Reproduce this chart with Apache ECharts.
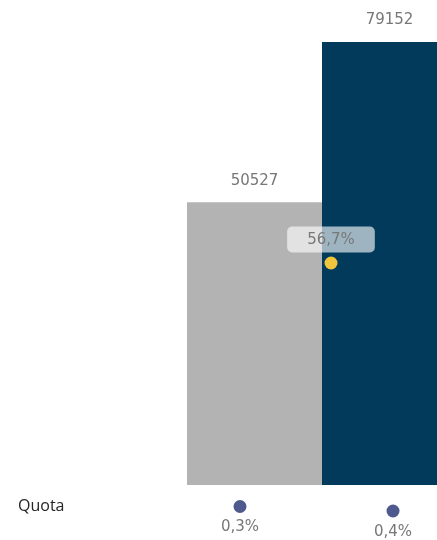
<!DOCTYPE html>
<html>
<head>
<meta charset="utf-8">
<style>
  html, body { margin: 0; padding: 0; background: #fff; }
  #chart { width: 437px; height: 540px; }
</style>
<script src="https://cdn.jsdelivr.net/npm/echarts@6/dist/echarts.min.js"></script>
</head>
<body>
<div id="chart"></div>
<script>
// Volumes per period
const periods = ['Periodo 1', 'Periodo 2'];
const volumes = [50527, 79152];
const barColors = ['#b3b3b3', '#023a5c'];

// Ratio between the two periods (percent)
const ratioLabel = ['Rapporto'];
const ratioValue = [56.7];

// Share per period (percent)
const shareTitle = 'Quota';
const shareValues = [0.3, 0.4];

const numFont = '"DejaVu Sans", Roboto, sans-serif';
const fmtPct = v => v.toFixed(1).replace('.', ',') + '%';

const chart = echarts.init(document.getElementById('chart'), null, { renderer: 'canvas' });

// The last column runs past the right edge of the canvas, so grids are not
// squeezed back into the container.
const gridBase = { outerBoundsMode: 'none', containLabel: false };

chart.setOption({
  animation: false,
  backgroundColor: '#ffffff',
  graphic: [{
    type: 'text',
    left: 18,
    top: 498,
    style: {
      text: shareTitle,
      fill: '#252423',
      font: '16px "Open Sans", "Noto Sans", sans-serif'
    }
  }],
  grid: [
    Object.assign({ left: 187, width: 270, top: 42, height: 443 }, gridBase),
    Object.assign({ left: 281, width: 100, top: 93.5, height: 391.5 }, gridBase),
    Object.assign({ left: 163.5, width: 306, top: 493, height: 45 }, gridBase)
  ],
  xAxis: [
    { type: 'category', gridIndex: 0, data: periods, show: false },
    { type: 'category', gridIndex: 1, data: ratioLabel, show: false },
    { type: 'category', gridIndex: 2, data: periods, show: false }
  ],
  yAxis: [
    { type: 'value', gridIndex: 0, min: 0, max: 'dataMax', show: false },
    { type: 'value', gridIndex: 1, min: 0, max: 100, show: false },
    { type: 'value', gridIndex: 2, min: 0, max: 1, inverse: true, show: false }
  ],
  series: [
    {
      type: 'bar',
      xAxisIndex: 0,
      yAxisIndex: 0,
      barCategoryGap: '0%',
      data: volumes.map((v, i) => ({ value: v, itemStyle: { color: barColors[i] } })),
      label: {
        show: true,
        position: 'top',
        distance: 14,
        color: '#777777',
        fontFamily: numFont,
        fontSize: 15,
        formatter: p => String(p.value)
      }
    },
    {
      type: 'scatter',
      xAxisIndex: 1,
      yAxisIndex: 1,
      symbol: 'circle',
      symbolSize: 13,
      z: 5,
      itemStyle: { color: '#f0c43c', opacity: 1 },
      data: ratioValue,
      label: {
        show: true,
        position: 'top',
        distance: 4,
        color: '#787878',
        fontFamily: numFont,
        fontSize: 15,
        backgroundColor: 'rgba(255,255,255,0.62)',
        borderRadius: 5,
        padding: [6, 20, 5, 20],
        formatter: p => fmtPct(p.value)
      }
    },
    {
      type: 'scatter',
      xAxisIndex: 2,
      yAxisIndex: 2,
      symbol: 'circle',
      symbolSize: 13,
      itemStyle: { color: '#4e5a8e', opacity: 1 },
      data: shareValues,
      label: {
        show: true,
        position: 'bottom',
        distance: 7,
        color: '#777777',
        fontFamily: numFont,
        fontSize: 15,
        formatter: p => fmtPct(p.value)
      }
    }
  ]
});
</script>
</body>
</html>
